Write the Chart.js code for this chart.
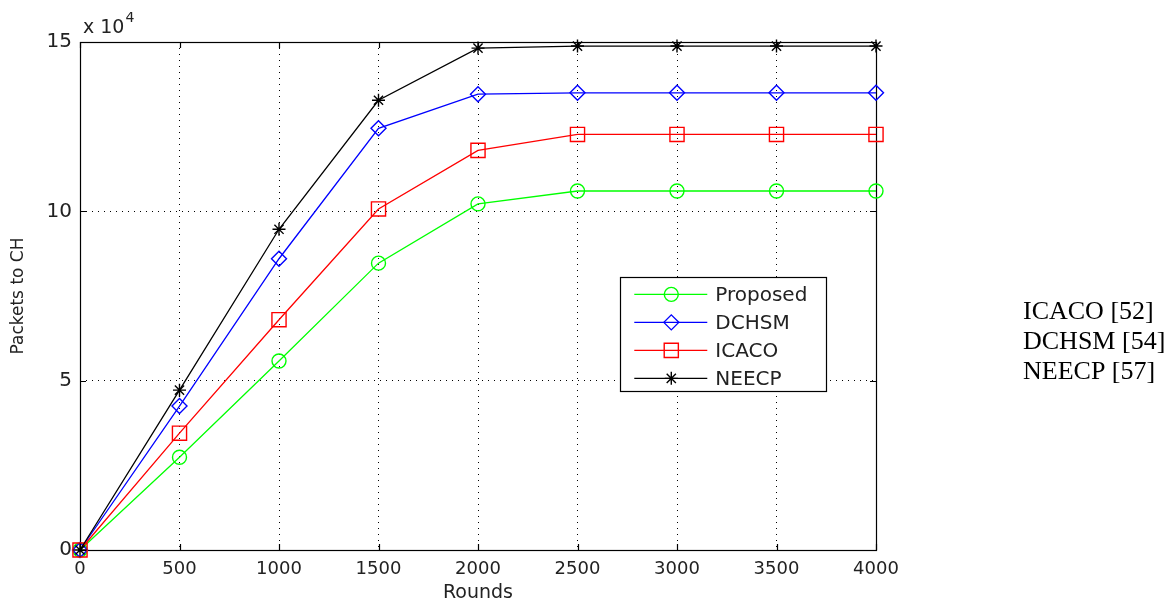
<!DOCTYPE html>
<html>
<head>
<meta charset="utf-8">
<script src="https://cdn.jsdelivr.net/npm/chart.js@4/dist/chart.umd.min.js"></script>
<style>
html,body{margin:0;padding:0;background:#fff;}
#wrap{width:1175px;height:605px;position:relative;}
canvas{display:block;}
</style>
</head>
<body>
<div id="wrap"><canvas id="c" width="1175" height="605"></canvas></div>
<script>
// ---- data (packets in units of 10^4) ----
const rounds = [0, 500, 1000, 1500, 2000, 2500, 3000, 3500, 4000];
const proposed = [0, 2.74, 5.58, 8.47, 10.22, 10.6, 10.6, 10.6, 10.6];
const dchsm = [0, 4.25, 8.6, 12.45, 13.46, 13.5, 13.5, 13.5, 13.5];
const icaco = [0, 3.45, 6.8, 10.07, 11.8, 12.27, 12.27, 12.27, 12.27];
const neecp = [0, 4.72, 9.47, 13.28, 14.82, 14.88, 14.88, 14.88, 14.88];
const seriesNames = ['Proposed', 'DCHSM', 'ICACO', 'NEECP'];
const yTickLabels = ['0', '5', '10', '15'];
const xTickLabels = ['0', '500', '1000', '1500', '2000', '2500', '3000', '3500', '4000'];
const sideNotes = ['ICACO [52]', 'DCHSM [54]', 'NEECP [57]'];
const xTitle = 'Rounds';
const yTitle = 'Packets to CH';

const SANS = '"DejaVu Sans", "Liberation Sans", sans-serif';
const pts = arr => rounds.map((r, i) => ({x: r, y: arr[i]}));

function ds(label, data, color, style, radius, order) {
  return {
    label, data: pts(data), borderColor: color, backgroundColor: color,
    borderWidth: 1.3, pointStyle: style, pointRadius: radius, pointHoverRadius: radius,
    pointBorderColor: color, pointBackgroundColor: 'rgba(0,0,0,0)', pointBorderWidth: 1.4,
    tension: 0, clip: false, order
  };
}

const datasets = [
  ds(seriesNames[0], proposed, 'rgb(0,255,0)', 'circle', 7, 3),
  ds(seriesNames[1], dchsm, 'rgb(0,0,255)', 'rectRot', 7.5, 2),
  ds(seriesNames[2], icaco, 'rgb(255,0,0)', 'rect', 10, 1),
  ds(seriesNames[3], neecp, 'rgb(0,0,0)', 'star', 6.5, 0)
];

function drawMarker(ctx, d, x, y) {
  if (Chart.helpers && Chart.helpers.drawPoint) {
    ctx.save();
    ctx.strokeStyle = d.pointBorderColor;
    ctx.fillStyle = d.pointBackgroundColor;
    ctx.lineWidth = d.pointBorderWidth;
    Chart.helpers.drawPoint(ctx, {pointStyle: d.pointStyle, radius: d.pointRadius, rotation: 0, borderWidth: d.pointBorderWidth}, x, y);
    ctx.restore();
  }
}

const decor = {
  id: 'decor',
  beforeDatasetsDraw(chart) {
    const {ctx, chartArea: a, scales} = chart;
    ctx.save();
    ctx.strokeStyle = '#000';
    ctx.lineWidth = 1.2;
    ctx.strokeRect(Math.round(a.left) + 0.5, Math.round(a.top) + 0.5, Math.round(a.right - a.left), Math.round(a.bottom - a.top));
    // inward tick marks
    ctx.lineWidth = 1.2;
    ctx.beginPath();
    scales.x.ticks.forEach(t => {
      const px = Math.round(scales.x.getPixelForValue(t.value)) + 0.5;
      ctx.moveTo(px, a.bottom); ctx.lineTo(px, a.bottom - 6);
      ctx.moveTo(px, a.top); ctx.lineTo(px, a.top + 6);
    });
    scales.y.ticks.forEach(t => {
      const py = Math.round(scales.y.getPixelForValue(t.value)) + 0.5;
      ctx.moveTo(a.left, py); ctx.lineTo(a.left + 6, py);
      ctx.moveTo(a.right, py); ctx.lineTo(a.right - 6, py);
    });
    ctx.stroke();
    // exponent label
    ctx.fillStyle = '#222';
    ctx.textBaseline = 'alphabetic';
    ctx.textAlign = 'left';
    ctx.font = '19px ' + SANS;
    ctx.fillText('x 10', a.left + 3, a.top - 9);
    const w = ctx.measureText('x 10').width;
    ctx.font = '14px ' + SANS;
    ctx.fillText('4', a.left + 3 + w + 1, a.top - 20);
    ctx.restore();
  },
  afterDatasetsDraw(chart) {
    const {ctx, scales} = chart;
    ctx.save();
    // legend box, anchored in data space
    const bx = scales.x.getPixelForValue(2715), by = scales.y.getPixelForValue(8.05);
    const bw = 206, bh = 114;
    ctx.fillStyle = '#fff';
    ctx.fillRect(bx, by, bw, bh);
    ctx.strokeStyle = '#000';
    ctx.lineWidth = 1.2;
    ctx.strokeRect(Math.round(bx) + 0.5, Math.round(by) + 0.5, bw, bh);
    ctx.font = '20px ' + SANS;
    ctx.textBaseline = 'middle';
    ctx.textAlign = 'left';
    datasets.forEach((d, i) => {
      const y = by + 17 + i * 28;
      ctx.strokeStyle = d.borderColor;
      ctx.lineWidth = d.borderWidth;
      ctx.beginPath();
      ctx.moveTo(bx + 14, y); ctx.lineTo(bx + 87, y);
      ctx.stroke();
      drawMarker(ctx, d, bx + 51, y);
      ctx.fillStyle = '#222';
      ctx.fillText(d.label, bx + 95, y + 1);
    });
    // side notes
    ctx.fillStyle = '#000';
    ctx.font = '26px "Liberation Serif", "Times New Roman", serif';
    ctx.textBaseline = 'middle';
    sideNotes.forEach((s, i) => {
      ctx.fillText(s, 1023, 312 + i * 30);
    });
    ctx.restore();
  }
};

new Chart(document.getElementById('c'), {
  type: 'line',
  data: {datasets},
  plugins: [decor],
  options: {
    responsive: false,
    animation: false,
    events: [],
    layout: {padding: {top: 42, right: 299, left: 0, bottom: 0}},
    plugins: {legend: {display: false}, tooltip: {enabled: false}, title: {display: false}},
    scales: {
      x: {
        type: 'linear', min: 0, max: 4000,
        afterFit: s => { s.height = 55; },
        afterBuildTicks: s => { s.ticks = rounds.map(v => ({value: v})); },
        ticks: {
          stepSize: 500, autoSkip: false, maxRotation: 0, padding: 9,
          color: '#222', font: {family: SANS, size: 18},
          callback: (v) => xTickLabels[rounds.indexOf(v)] ?? ''
        },
        grid: {color: '#000', lineWidth: 1, drawTicks: false},
        border: {display: false, dash: [1, 5]},
        title: {display: true, text: xTitle, color: '#222', font: {family: SANS, size: 19}, padding: {top: 0, bottom: 1}}
      },
      y: {
        type: 'linear', min: 0, max: 15,
        afterFit: s => { s.width = 80; },
        afterBuildTicks: s => { s.ticks = yTickLabels.map(v => ({value: Number(v)})); },
        ticks: {
          stepSize: 5, padding: 8, color: '#222', font: {family: SANS, size: 20},
          callback: (v) => yTickLabels.find(t => Number(t) === v) ?? ''
        },
        grid: {color: '#000', lineWidth: 1, drawTicks: false},
        border: {display: false, dash: [1, 5]},
        title: {display: true, text: yTitle, color: '#222', font: {family: SANS, size: 17}, padding: {top: 8, bottom: 0}}
      }
    }
  }
});
</script>
</body>
</html>
